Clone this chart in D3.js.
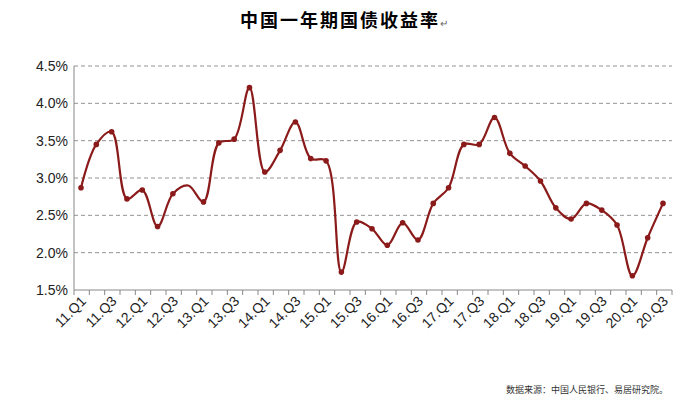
<!DOCTYPE html><html><head><meta charset="utf-8"><script src="https://cdn.jsdelivr.net/npm/d3@7"></script>
<style>body{margin:0;background:#fff}</style></head><body><svg id="c" width="690" height="405"></svg>
<script>
const categories=["11.Q1","11.Q2","11.Q3","11.Q4","12.Q1","12.Q2","12.Q3","12.Q4","13.Q1","13.Q2","13.Q3","13.Q4","14.Q1","14.Q2","14.Q3","14.Q4","15.Q1","15.Q2","15.Q3","15.Q4","16.Q1","16.Q2","16.Q3","16.Q4","17.Q1","17.Q2","17.Q3","17.Q4","18.Q1","18.Q2","18.Q3","18.Q4","19.Q1","19.Q2","19.Q3","19.Q4","20.Q1","20.Q2","20.Q3"];
const values=[2.87,3.45,3.62,2.72,2.84,2.35,2.79,2.90,2.68,3.47,3.52,4.21,3.08,3.37,3.75,3.26,3.23,1.74,2.41,2.32,2.10,2.40,2.17,2.66,2.87,3.45,3.45,3.81,3.33,3.16,2.96,2.60,2.45,2.66,2.57,2.37,1.69,2.20,2.66];
const noDot=["12.Q4"];
const yTicks=[1.5,2.0,2.5,3.0,3.5,4.0,4.5];
const svg=d3.select("#c");
const x=d3.scalePoint().domain(categories).range([81,663]).padding(0);
const y=d3.scaleLinear().domain([1.5,4.5]).range([290,66]);
const L=74,R=672;
const t=svg.append("text").attr("x",345).attr("y",27).attr("text-anchor","middle").attr("font-family","Noto Sans CJK SC").attr("font-weight","bold").attr("font-size",18).attr("letter-spacing",2);
t.append("tspan").text("中国一年期国债收益率");
t.append("tspan").attr("font-size",10).attr("font-weight","normal").attr("fill","#666").text("↵");
yTicks.forEach(t=>{ if(t>1.5) svg.append("line").attr("x1",L).attr("x2",R).attr("y1",y(t)).attr("y2",y(t)).attr("stroke","#777").attr("stroke-dasharray","4,3").attr("stroke-width",0.8);
 svg.append("text").attr("x",L-6).attr("y",y(t)+5).attr("text-anchor","end").attr("font-family","Liberation Sans").attr("font-size",14).attr("fill","#222").text(t.toFixed(1)+"%");});
svg.append("line").attr("x1",L).attr("x2",L).attr("y1",y(4.5)).attr("y2",y(1.5)).attr("stroke","#888");
svg.append("line").attr("x1",L).attr("x2",R).attr("y1",y(1.5)).attr("y2",y(1.5)).attr("stroke","#888");
const st=(R-L)/39;
for(let i=0;i<=39;i++) svg.append("line").attr("x1",L+i*st).attr("x2",L+i*st).attr("y1",290).attr("y2",295).attr("stroke","#888");
categories.forEach((c,i)=>{ if(i%2==0){const xx=x(c);svg.append("text").attr("transform",`translate(${xx+6},${302}) rotate(-45)`).attr("text-anchor","end").attr("font-family","Liberation Sans").attr("font-size",14).attr("fill","#222").text(c);}});
const line=d3.line().x((d,i)=>x(categories[i])).y(d=>y(d)).curve(d3.curveCatmullRom.alpha(0.5));
svg.append("path").attr("d",line(values)).attr("fill","none").attr("stroke","#8b1a1a").attr("stroke-width",2.2);
svg.selectAll("circle").data(values.map((v,i)=>[categories[i],v]).filter(d=>!noDot.includes(d[0]))).join("circle").attr("cx",d=>x(d[0])).attr("cy",d=>y(d[1])).attr("r",2.8).attr("fill","#8b1a1a");
svg.append("text").attr("x",668).attr("y",393).attr("text-anchor","end").attr("font-family","Noto Sans CJK SC").attr("font-size",9).attr("fill","#333").text("数据来源：中国人民银行、易居研究院。");
</script></body></html>
